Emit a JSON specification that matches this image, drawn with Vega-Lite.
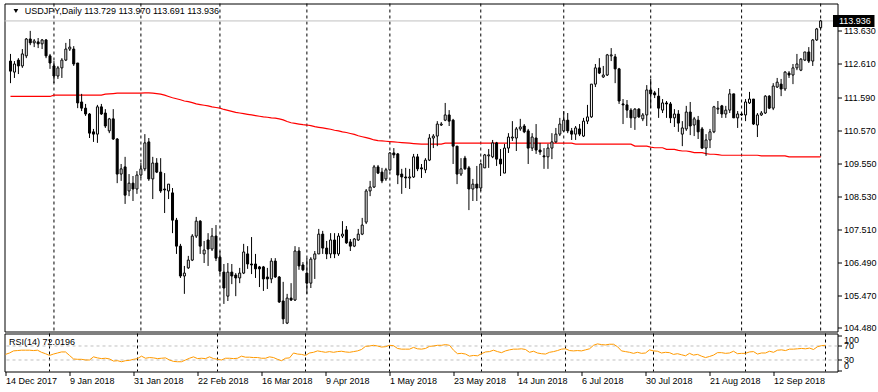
{
"$schema": "https://vega.github.io/schema/vega-lite/v6.json",
"background": "white",
"padding": {"left": 2.5, "top": 2.5, "right": 0, "bottom": 16},
"bounds": "flush",
"spacing": 2,
"config": {
  "view": {"stroke": "#000000", "strokeWidth": 1},
  "axis": {"labelFont": "Liberation Sans", "labelFontSize": 9, "labelColor": "#000000", "tickColor": "#000000", "domain": false, "grid": false},
  "text": {"font": "Liberation Sans", "fontSize": 9, "color": "#000000"}
},
"datasets": {
  "months": [{"i":11},{"i":33},{"i":53},{"i":75},{"i":96},{"i":119},{"i":140},{"i":162},{"i":185},{"i":205}],
  "levels": [{"v":70},{"v":30}],
  "bars": [
{"i":0,"o":112.70,"h":112.92,"l":112.02,"c":112.39,"ma":111.61,"rsi":46},
{"i":1,"o":112.36,"h":112.70,"l":112.18,"c":112.61,"ma":111.61,"rsi":50},
{"i":2,"o":112.73,"h":112.79,"l":112.30,"c":112.55,"ma":111.61,"rsi":56},
{"i":3,"o":112.55,"h":113.07,"l":112.49,"c":112.92,"ma":111.61,"rsi":57},
{"i":4,"o":112.86,"h":113.41,"l":112.79,"c":113.38,"ma":111.61,"rsi":58},
{"i":5,"o":113.38,"h":113.63,"l":113.19,"c":113.26,"ma":111.61,"rsi":58},
{"i":6,"o":113.26,"h":113.38,"l":113.13,"c":113.32,"ma":111.61,"rsi":58},
{"i":7,"o":113.29,"h":113.41,"l":113.10,"c":113.23,"ma":111.61,"rsi":57},
{"i":8,"o":113.23,"h":113.38,"l":113.07,"c":113.35,"ma":111.61,"rsi":58},
{"i":9,"o":113.35,"h":113.38,"l":112.79,"c":112.86,"ma":111.61,"rsi":52},
{"i":10,"o":112.86,"h":112.92,"l":112.46,"c":112.64,"ma":111.61,"rsi":48},
{"i":11,"o":112.55,"h":112.70,"l":112.02,"c":112.24,"ma":111.65,"rsi":43},
{"i":12,"o":112.24,"h":112.55,"l":112.15,"c":112.49,"ma":111.65,"rsi":47},
{"i":13,"o":112.49,"h":112.79,"l":112.18,"c":112.73,"ma":111.65,"rsi":50},
{"i":14,"o":112.73,"h":113.26,"l":112.70,"c":113.07,"ma":111.65,"rsi":53},
{"i":15,"o":113.07,"h":113.38,"l":113.01,"c":113.13,"ma":111.65,"rsi":53},
{"i":16,"o":113.07,"h":113.16,"l":112.55,"c":112.61,"ma":111.65,"rsi":43},
{"i":17,"o":112.64,"h":112.64,"l":111.25,"c":111.41,"ma":111.65,"rsi":33},
{"i":18,"o":111.44,"h":111.69,"l":111.16,"c":111.25,"ma":111.65,"rsi":32},
{"i":19,"o":111.25,"h":111.38,"l":111.01,"c":111.07,"ma":111.65,"rsi":32},
{"i":20,"o":111.07,"h":111.10,"l":110.33,"c":110.48,"ma":111.65,"rsi":30},
{"i":21,"o":110.52,"h":110.61,"l":110.21,"c":110.45,"ma":111.65,"rsi":30},
{"i":22,"o":110.45,"h":111.35,"l":110.18,"c":111.29,"ma":111.65,"rsi":39},
{"i":23,"o":111.29,"h":111.38,"l":111.04,"c":111.07,"ma":111.65,"rsi":36},
{"i":24,"o":111.10,"h":111.22,"l":110.64,"c":110.70,"ma":111.68,"rsi":34},
{"i":25,"o":110.55,"h":110.95,"l":110.48,"c":110.92,"ma":111.69,"rsi":35},
{"i":26,"o":110.92,"h":111.22,"l":110.27,"c":110.30,"ma":111.70,"rsi":33},
{"i":27,"o":110.30,"h":110.33,"l":108.94,"c":109.22,"ma":111.71,"rsi":27},
{"i":28,"o":109.22,"h":109.53,"l":109.01,"c":109.38,"ma":111.71,"rsi":28},
{"i":29,"o":109.44,"h":109.75,"l":108.30,"c":108.57,"ma":111.71,"rsi":25},
{"i":30,"o":108.70,"h":109.22,"l":108.54,"c":108.94,"ma":111.71,"rsi":28},
{"i":31,"o":108.94,"h":109.16,"l":108.39,"c":108.76,"ma":111.71,"rsi":29},
{"i":32,"o":108.76,"h":109.31,"l":108.61,"c":109.19,"ma":111.71,"rsi":32},
{"i":33,"o":109.19,"h":109.56,"l":109.10,"c":109.38,"ma":111.71,"rsi":34},
{"i":34,"o":109.38,"h":110.45,"l":109.31,"c":110.18,"ma":111.72,"rsi":41},
{"i":35,"o":110.21,"h":110.33,"l":109.01,"c":109.07,"ma":111.72,"rsi":35},
{"i":36,"o":109.07,"h":109.75,"l":108.45,"c":109.56,"ma":111.71,"rsi":37},
{"i":37,"o":109.56,"h":109.71,"l":109.25,"c":109.28,"ma":111.70,"rsi":36},
{"i":38,"o":109.28,"h":109.71,"l":108.64,"c":108.70,"ma":111.68,"rsi":34},
{"i":39,"o":108.76,"h":109.25,"l":108.02,"c":108.73,"ma":111.65,"rsi":35},
{"i":40,"o":108.70,"h":108.91,"l":108.45,"c":108.91,"ma":111.61,"rsi":36},
{"i":41,"o":108.64,"h":108.79,"l":107.40,"c":107.80,"ma":111.57,"rsi":30},
{"i":42,"o":107.80,"h":107.87,"l":106.76,"c":107.00,"ma":111.54,"rsi":26},
{"i":43,"o":107.00,"h":107.07,"l":106.02,"c":106.08,"ma":111.51,"rsi":25},
{"i":44,"o":106.08,"h":106.39,"l":105.53,"c":106.17,"ma":111.47,"rsi":25},
{"i":45,"o":106.33,"h":106.70,"l":106.30,"c":106.57,"ma":111.45,"rsi":30},
{"i":46,"o":106.57,"h":107.37,"l":106.54,"c":107.31,"ma":111.42,"rsi":35},
{"i":47,"o":107.31,"h":107.90,"l":107.25,"c":107.77,"ma":111.38,"rsi":39},
{"i":48,"o":107.77,"h":107.80,"l":106.76,"c":107.00,"ma":111.36,"rsi":34},
{"i":49,"o":106.76,"h":107.16,"l":106.48,"c":106.88,"ma":111.34,"rsi":35},
{"i":50,"o":107.19,"h":107.40,"l":106.39,"c":106.91,"ma":111.32,"rsi":34},
{"i":51,"o":106.91,"h":107.56,"l":106.85,"c":107.31,"ma":111.29,"rsi":39},
{"i":52,"o":107.31,"h":107.65,"l":106.54,"c":106.63,"ma":111.27,"rsi":34},
{"i":53,"o":106.66,"h":106.85,"l":106.14,"c":106.23,"ma":111.25,"rsi":32},
{"i":54,"o":106.20,"h":106.45,"l":105.22,"c":105.71,"ma":111.21,"rsi":30},
{"i":55,"o":105.46,"h":106.48,"l":105.31,"c":106.20,"ma":111.18,"rsi":35},
{"i":56,"o":106.20,"h":106.45,"l":105.83,"c":106.08,"ma":111.15,"rsi":35},
{"i":57,"o":106.11,"h":106.17,"l":105.46,"c":106.02,"ma":111.12,"rsi":34},
{"i":58,"o":106.02,"h":106.33,"l":105.86,"c":106.17,"ma":111.10,"rsi":35},
{"i":59,"o":106.17,"h":107.07,"l":106.14,"c":106.82,"ma":111.08,"rsi":41},
{"i":60,"o":106.76,"h":107.00,"l":106.30,"c":106.45,"ma":111.06,"rsi":38},
{"i":61,"o":106.45,"h":107.28,"l":106.14,"c":106.42,"ma":111.04,"rsi":38},
{"i":62,"o":106.45,"h":106.76,"l":106.02,"c":106.30,"ma":111.02,"rsi":37},
{"i":63,"o":106.36,"h":106.39,"l":105.74,"c":106.30,"ma":111.00,"rsi":37},
{"i":64,"o":106.36,"h":106.39,"l":105.62,"c":105.99,"ma":110.98,"rsi":35},
{"i":65,"o":106.05,"h":106.33,"l":105.68,"c":105.99,"ma":110.97,"rsi":35},
{"i":66,"o":105.99,"h":106.63,"l":105.86,"c":106.54,"ma":110.95,"rsi":39},
{"i":67,"o":106.54,"h":106.63,"l":106.02,"c":106.05,"ma":110.94,"rsi":37},
{"i":68,"o":106.05,"h":106.08,"l":105.25,"c":105.28,"ma":110.92,"rsi":32},
{"i":69,"o":105.31,"h":105.90,"l":104.60,"c":104.76,"ma":110.89,"rsi":28},
{"i":70,"o":104.63,"h":105.53,"l":104.60,"c":105.40,"ma":110.84,"rsi":35},
{"i":71,"o":105.40,"h":105.86,"l":105.31,"c":105.34,"ma":110.80,"rsi":36},
{"i":72,"o":105.34,"h":107.00,"l":105.31,"c":106.85,"ma":110.78,"rsi":50},
{"i":73,"o":106.85,"h":106.97,"l":106.27,"c":106.39,"ma":110.76,"rsi":47},
{"i":74,"o":106.42,"h":106.51,"l":106.23,"c":106.27,"ma":110.74,"rsi":46},
{"i":75,"o":106.17,"h":106.63,"l":105.53,"c":105.86,"ma":110.73,"rsi":43},
{"i":76,"o":105.86,"h":106.66,"l":105.71,"c":106.60,"ma":110.71,"rsi":50},
{"i":77,"o":106.60,"h":106.85,"l":105.99,"c":106.76,"ma":110.68,"rsi":52},
{"i":78,"o":106.76,"h":107.53,"l":106.76,"c":107.37,"ma":110.66,"rsi":56},
{"i":79,"o":107.37,"h":107.47,"l":106.76,"c":106.94,"ma":110.64,"rsi":54},
{"i":80,"o":106.94,"h":107.16,"l":106.60,"c":106.76,"ma":110.62,"rsi":52},
{"i":81,"o":106.76,"h":107.40,"l":106.63,"c":107.19,"ma":110.60,"rsi":54},
{"i":82,"o":107.19,"h":107.40,"l":106.63,"c":106.76,"ma":110.57,"rsi":52},
{"i":83,"o":106.76,"h":107.40,"l":106.70,"c":107.31,"ma":110.55,"rsi":54},
{"i":84,"o":107.31,"h":107.77,"l":107.25,"c":107.37,"ma":110.52,"rsi":55},
{"i":85,"o":107.50,"h":107.62,"l":107.07,"c":107.10,"ma":110.50,"rsi":53},
{"i":86,"o":107.13,"h":107.22,"l":106.85,"c":107.00,"ma":110.47,"rsi":52},
{"i":87,"o":107.00,"h":107.25,"l":106.97,"c":107.22,"ma":110.44,"rsi":54},
{"i":88,"o":107.19,"h":107.53,"l":107.16,"c":107.37,"ma":110.40,"rsi":56},
{"i":89,"o":107.37,"h":107.87,"l":107.34,"c":107.65,"ma":110.37,"rsi":60},
{"i":90,"o":107.74,"h":108.76,"l":107.68,"c":108.70,"ma":110.34,"rsi":69},
{"i":91,"o":108.70,"h":109.01,"l":108.54,"c":108.82,"ma":110.31,"rsi":70},
{"i":92,"o":108.82,"h":109.50,"l":108.79,"c":109.44,"ma":110.27,"rsi":72},
{"i":93,"o":109.44,"h":109.50,"l":109.22,"c":109.25,"ma":110.25,"rsi":70},
{"i":94,"o":109.28,"h":109.41,"l":108.94,"c":109.01,"ma":110.24,"rsi":67},
{"i":95,"o":109.07,"h":109.41,"l":109.01,"c":109.35,"ma":110.23,"rsi":68},
{"i":96,"o":109.35,"h":109.90,"l":109.31,"c":109.87,"ma":110.22,"rsi":72},
{"i":97,"o":109.87,"h":110.02,"l":109.71,"c":109.81,"ma":110.21,"rsi":71},
{"i":98,"o":109.84,"h":109.87,"l":108.91,"c":109.19,"ma":110.20,"rsi":63},
{"i":99,"o":109.22,"h":109.38,"l":108.61,"c":109.13,"ma":110.19,"rsi":61},
{"i":100,"o":109.13,"h":109.41,"l":108.79,"c":109.10,"ma":110.18,"rsi":61},
{"i":101,"o":109.10,"h":109.38,"l":108.76,"c":109.13,"ma":110.17,"rsi":61},
{"i":102,"o":109.13,"h":109.84,"l":109.10,"c":109.75,"ma":110.16,"rsi":66},
{"i":103,"o":109.75,"h":109.84,"l":109.31,"c":109.38,"ma":110.15,"rsi":62},
{"i":104,"o":109.41,"h":109.53,"l":109.10,"c":109.38,"ma":110.14,"rsi":61},
{"i":105,"o":109.35,"h":109.71,"l":109.25,"c":109.65,"ma":110.14,"rsi":63},
{"i":106,"o":109.65,"h":110.45,"l":109.62,"c":110.33,"ma":110.14,"rsi":69},
{"i":107,"o":110.33,"h":110.45,"l":110.02,"c":110.39,"ma":110.14,"rsi":70},
{"i":108,"o":110.39,"h":110.85,"l":110.08,"c":110.76,"ma":110.14,"rsi":72},
{"i":109,"o":110.73,"h":110.82,"l":110.70,"c":110.76,"ma":110.14,"rsi":72},
{"i":110,"o":110.88,"h":111.41,"l":110.85,"c":111.04,"ma":110.17,"rsi":74},
{"i":111,"o":111.04,"h":111.19,"l":110.70,"c":110.85,"ma":110.17,"rsi":72},
{"i":112,"o":110.88,"h":110.92,"l":109.53,"c":110.08,"ma":110.17,"rsi":58},
{"i":113,"o":110.08,"h":110.08,"l":108.91,"c":109.22,"ma":110.17,"rsi":48},
{"i":114,"o":109.22,"h":109.71,"l":109.16,"c":109.38,"ma":110.17,"rsi":49},
{"i":115,"o":109.71,"h":109.78,"l":109.35,"c":109.38,"ma":110.17,"rsi":47},
{"i":116,"o":109.41,"h":109.47,"l":108.11,"c":108.76,"ma":110.17,"rsi":41},
{"i":117,"o":108.76,"h":109.07,"l":108.39,"c":108.91,"ma":110.17,"rsi":43},
{"i":118,"o":108.91,"h":109.47,"l":108.39,"c":108.79,"ma":110.17,"rsi":42},
{"i":119,"o":108.79,"h":109.56,"l":108.70,"c":109.53,"ma":110.17,"rsi":48},
{"i":120,"o":109.41,"h":109.84,"l":109.41,"c":109.81,"ma":110.17,"rsi":53},
{"i":121,"o":109.78,"h":109.99,"l":109.41,"c":109.81,"ma":110.17,"rsi":54},
{"i":122,"o":109.75,"h":110.27,"l":109.71,"c":110.18,"ma":110.17,"rsi":58},
{"i":123,"o":110.18,"h":110.21,"l":109.47,"c":109.68,"ma":110.17,"rsi":54},
{"i":124,"o":109.68,"h":109.99,"l":109.16,"c":109.53,"ma":110.17,"rsi":51},
{"i":125,"o":109.25,"h":110.15,"l":109.25,"c":110.02,"ma":110.17,"rsi":56},
{"i":126,"o":110.02,"h":110.48,"l":109.87,"c":110.36,"ma":110.17,"rsi":59},
{"i":127,"o":110.33,"h":110.85,"l":110.24,"c":110.36,"ma":110.17,"rsi":61},
{"i":128,"o":110.33,"h":110.67,"l":109.93,"c":110.61,"ma":110.17,"rsi":61},
{"i":129,"o":110.61,"h":110.92,"l":110.55,"c":110.67,"ma":110.17,"rsi":62},
{"i":130,"o":110.70,"h":110.76,"l":110.48,"c":110.52,"ma":110.17,"rsi":60},
{"i":131,"o":110.55,"h":110.61,"l":109.53,"c":110.02,"ma":110.17,"rsi":52},
{"i":132,"o":110.02,"h":110.48,"l":109.93,"c":110.36,"ma":110.17,"rsi":55},
{"i":133,"o":110.33,"h":110.76,"l":109.84,"c":109.96,"ma":110.17,"rsi":50},
{"i":134,"o":109.96,"h":110.18,"l":109.81,"c":109.90,"ma":110.17,"rsi":48},
{"i":135,"o":109.78,"h":110.02,"l":109.38,"c":109.75,"ma":110.17,"rsi":47},
{"i":136,"o":109.75,"h":110.15,"l":109.38,"c":110.02,"ma":110.17,"rsi":52},
{"i":137,"o":110.02,"h":110.48,"l":109.68,"c":110.21,"ma":110.17,"rsi":54},
{"i":138,"o":110.21,"h":110.64,"l":110.18,"c":110.45,"ma":110.17,"rsi":57},
{"i":139,"o":110.45,"h":110.95,"l":110.39,"c":110.76,"ma":110.17,"rsi":61},
{"i":140,"o":110.55,"h":111.16,"l":110.52,"c":110.88,"ma":110.17,"rsi":62},
{"i":141,"o":110.88,"h":111.10,"l":110.48,"c":110.55,"ma":110.17,"rsi":57},
{"i":142,"o":110.55,"h":110.64,"l":110.27,"c":110.45,"ma":110.17,"rsi":56},
{"i":143,"o":110.45,"h":110.70,"l":110.27,"c":110.64,"ma":110.14,"rsi":57},
{"i":144,"o":110.61,"h":110.76,"l":110.39,"c":110.45,"ma":110.14,"rsi":56},
{"i":145,"o":110.39,"h":110.95,"l":110.36,"c":110.85,"ma":110.14,"rsi":59},
{"i":146,"o":110.85,"h":111.35,"l":110.76,"c":110.98,"ma":110.14,"rsi":62},
{"i":147,"o":110.98,"h":111.99,"l":110.95,"c":111.99,"ma":110.14,"rsi":72},
{"i":148,"o":111.99,"h":112.61,"l":111.90,"c":112.49,"ma":110.14,"rsi":76},
{"i":149,"o":112.49,"h":112.79,"l":112.30,"c":112.33,"ma":110.14,"rsi":74},
{"i":150,"o":112.21,"h":112.55,"l":112.18,"c":112.27,"ma":110.14,"rsi":73},
{"i":151,"o":112.27,"h":112.92,"l":112.24,"c":112.89,"ma":110.14,"rsi":75},
{"i":152,"o":112.86,"h":113.10,"l":112.70,"c":112.89,"ma":110.14,"rsi":75},
{"i":153,"o":112.83,"h":112.92,"l":112.02,"c":112.46,"ma":110.14,"rsi":68},
{"i":154,"o":112.46,"h":112.49,"l":111.38,"c":111.47,"ma":110.14,"rsi":56},
{"i":155,"o":111.38,"h":111.53,"l":110.76,"c":111.35,"ma":110.14,"rsi":54},
{"i":156,"o":111.35,"h":111.50,"l":110.95,"c":111.19,"ma":110.14,"rsi":52},
{"i":157,"o":111.19,"h":111.25,"l":110.64,"c":110.95,"ma":110.14,"rsi":49},
{"i":158,"o":110.95,"h":111.25,"l":110.58,"c":111.22,"ma":110.08,"rsi":52},
{"i":159,"o":111.22,"h":111.25,"l":110.95,"c":110.98,"ma":110.08,"rsi":49},
{"i":160,"o":110.92,"h":111.10,"l":110.85,"c":111.04,"ma":110.08,"rsi":50},
{"i":161,"o":111.04,"h":111.96,"l":110.70,"c":111.81,"ma":110.08,"rsi":59},
{"i":162,"o":111.81,"h":112.15,"l":111.25,"c":111.69,"ma":110.05,"rsi":56},
{"i":163,"o":111.72,"h":111.78,"l":111.56,"c":111.66,"ma":110.03,"rsi":55},
{"i":164,"o":111.62,"h":111.87,"l":110.95,"c":111.25,"ma":110.03,"rsi":50},
{"i":165,"o":111.19,"h":111.53,"l":111.10,"c":111.41,"ma":110.03,"rsi":52},
{"i":166,"o":111.41,"h":111.47,"l":110.95,"c":111.38,"ma":109.98,"rsi":51},
{"i":167,"o":111.38,"h":111.44,"l":110.79,"c":110.95,"ma":109.98,"rsi":46},
{"i":168,"o":110.95,"h":111.22,"l":110.67,"c":111.07,"ma":109.98,"rsi":48},
{"i":169,"o":111.07,"h":111.19,"l":110.52,"c":110.79,"ma":109.95,"rsi":45},
{"i":170,"o":110.45,"h":110.85,"l":110.08,"c":110.64,"ma":109.93,"rsi":42},
{"i":171,"o":110.61,"h":111.32,"l":110.55,"c":111.13,"ma":109.93,"rsi":49},
{"i":172,"o":111.13,"h":111.44,"l":110.42,"c":110.70,"ma":109.91,"rsi":44},
{"i":173,"o":110.73,"h":110.98,"l":110.39,"c":110.92,"ma":109.88,"rsi":46},
{"i":174,"o":110.88,"h":111.01,"l":110.30,"c":110.52,"ma":109.88,"rsi":41},
{"i":175,"o":110.61,"h":110.67,"l":109.99,"c":110.02,"ma":109.88,"rsi":37},
{"i":176,"o":110.02,"h":110.45,"l":109.78,"c":110.27,"ma":109.85,"rsi":40},
{"i":177,"o":110.27,"h":110.61,"l":110.02,"c":110.52,"ma":109.83,"rsi":44},
{"i":178,"o":110.52,"h":111.32,"l":110.48,"c":111.29,"ma":109.83,"rsi":51},
{"i":179,"o":111.22,"h":111.47,"l":111.07,"c":111.25,"ma":109.82,"rsi":51},
{"i":180,"o":111.32,"h":111.35,"l":110.95,"c":111.07,"ma":109.80,"rsi":49},
{"i":181,"o":111.07,"h":111.32,"l":110.95,"c":111.19,"ma":109.80,"rsi":50},
{"i":182,"o":111.19,"h":111.84,"l":111.10,"c":111.69,"ma":109.80,"rsi":55},
{"i":183,"o":111.69,"h":111.69,"l":110.95,"c":110.95,"ma":109.80,"rsi":48},
{"i":184,"o":110.95,"h":111.16,"l":110.64,"c":111.07,"ma":109.80,"rsi":49},
{"i":185,"o":111.07,"h":111.10,"l":111.01,"c":111.04,"ma":109.80,"rsi":49},
{"i":186,"o":111.04,"h":111.53,"l":110.85,"c":111.44,"ma":109.80,"rsi":53},
{"i":187,"o":111.41,"h":111.75,"l":111.38,"c":111.53,"ma":109.80,"rsi":54},
{"i":188,"o":111.53,"h":111.53,"l":110.73,"c":110.76,"ma":109.80,"rsi":47},
{"i":189,"o":110.73,"h":111.10,"l":110.36,"c":111.04,"ma":109.80,"rsi":50},
{"i":190,"o":111.04,"h":111.16,"l":111.01,"c":111.10,"ma":109.78,"rsi":50},
{"i":191,"o":111.10,"h":111.65,"l":111.07,"c":111.62,"ma":109.78,"rsi":55},
{"i":192,"o":111.62,"h":111.65,"l":111.22,"c":111.25,"ma":109.78,"rsi":52},
{"i":193,"o":111.25,"h":112.02,"l":111.19,"c":111.93,"ma":109.78,"rsi":58},
{"i":194,"o":111.90,"h":112.18,"l":111.87,"c":112.05,"ma":109.78,"rsi":59},
{"i":195,"o":111.99,"h":112.15,"l":111.62,"c":111.84,"ma":109.78,"rsi":57},
{"i":196,"o":111.84,"h":112.39,"l":111.78,"c":112.36,"ma":109.78,"rsi":61},
{"i":197,"o":112.33,"h":112.39,"l":112.18,"c":112.27,"ma":109.75,"rsi":61},
{"i":198,"o":112.27,"h":112.61,"l":111.99,"c":112.49,"ma":109.75,"rsi":62},
{"i":199,"o":112.49,"h":112.92,"l":112.42,"c":112.61,"ma":109.75,"rsi":63},
{"i":200,"o":112.42,"h":112.79,"l":112.39,"c":112.76,"ma":109.75,"rsi":62},
{"i":201,"o":112.73,"h":112.98,"l":112.70,"c":112.98,"ma":109.75,"rsi":64},
{"i":202,"o":112.98,"h":113.13,"l":112.64,"c":112.70,"ma":109.75,"rsi":60},
{"i":203,"o":112.70,"h":113.38,"l":112.55,"c":113.35,"ma":109.75,"rsi":68},
{"i":204,"o":113.35,"h":113.72,"l":113.32,"c":113.69,"ma":109.75,"rsi":71},
{"i":205,"o":113.729,"h":113.970,"l":113.691,"c":113.936,"ma":109.75,"rsi":72.0196}
  ]
},
"vconcat": [
{
  "width": 833, "height": 328,
  "layer": [
    {"data": {"name": "months"},
     "mark": {"type": "rule", "color": "#000000", "strokeWidth": 1, "strokeDash": [3, 3]},
     "encoding": {"x": {"field": "i", "type": "quantitative", "scale": {"domain": [-0.25, 208], "nice": false, "zero": false}, "axis": null}}},
    {"data": {"values": [{"p": 113.936}]},
     "mark": {"type": "rule", "color": "#c0c0c0", "strokeWidth": 1},
     "encoding": {"y": {"field": "p", "type": "quantitative", "scale": {"domain": [104.371, 114.473], "nice": false, "zero": false},
        "axis": {"orient": "right", "title": null, "values": [104.48, 105.47, 106.49, 107.51, 108.53, 109.55, 110.57, 111.59, 112.61, 113.63], "format": ".3f", "tickSize": 4, "labelPadding": 2, "labelOverlap": false, "labelFlush": false}}}},
    {"data": {"name": "bars"},
     "mark": {"type": "line", "color": "#ff0000", "strokeWidth": 1.2},
     "encoding": {"x": {"field": "i", "type": "quantitative", "axis": null},
                  "y": {"field": "ma", "type": "quantitative",
        "axis": {"orient": "right", "title": null, "values": [104.48, 105.47, 106.49, 107.51, 108.53, 109.55, 110.57, 111.59, 112.61, 113.63], "format": ".3f", "tickSize": 4, "labelPadding": 2, "labelOverlap": false, "labelFlush": false}}}},
    {"data": {"name": "bars"},
     "mark": {"type": "rule", "color": "#000000", "strokeWidth": 1},
     "encoding": {"x": {"field": "i", "type": "quantitative", "axis": null},
                  "y": {"field": "l", "type": "quantitative",
        "axis": {"orient": "right", "title": null, "values": [104.48, 105.47, 106.49, 107.51, 108.53, 109.55, 110.57, 111.59, 112.61, 113.63], "format": ".3f", "tickSize": 4, "labelPadding": 2, "labelOverlap": false, "labelFlush": false}},
                  "y2": {"field": "h"}}},
    {"data": {"name": "bars"},
     "mark": {"type": "bar", "width": 2, "stroke": "#000000", "strokeWidth": 1},
     "encoding": {"x": {"field": "i", "type": "quantitative", "axis": null},
                  "y": {"field": "o", "type": "quantitative",
        "axis": {"orient": "right", "title": null, "values": [104.48, 105.47, 106.49, 107.51, 108.53, 109.55, 110.57, 111.59, 112.61, 113.63], "format": ".3f", "tickSize": 4, "labelPadding": 2, "labelOverlap": false, "labelFlush": false}},
                  "y2": {"field": "c"},
                  "fill": {"condition": {"test": "datum.c >= datum.o", "value": "#ffffff"}, "value": "#000000"}}},
    {"data": {"values": [{}]},
     "mark": {"type": "point", "shape": "triangle-down", "filled": true, "color": "#000000", "size": 22, "opacity": 1},
     "encoding": {"x": {"datum": 1.375, "type": "quantitative", "axis": null}, "y": {"datum": 114.24, "type": "quantitative",
        "axis": {"orient": "right", "title": null, "values": [104.48, 105.47, 106.49, 107.51, 108.53, 109.55, 110.57, 111.59, 112.61, 113.63], "format": ".3f", "tickSize": 4, "labelPadding": 2, "labelOverlap": false, "labelFlush": false}}}},
    {"data": {"values": [{}]},
     "mark": {"type": "text", "text": "USDJPY,Daily  113.729 113.970 113.691 113.936", "align": "left", "baseline": "middle", "font": "Liberation Sans", "fontSize": 9},
     "encoding": {"x": {"datum": 3.625, "type": "quantitative", "axis": null}, "y": {"datum": 114.24, "type": "quantitative",
        "axis": {"orient": "right", "title": null, "values": [104.48, 105.47, 106.49, 107.51, 108.53, 109.55, 110.57, 111.59, 112.61, 113.63], "format": ".3f", "tickSize": 4, "labelPadding": 2, "labelOverlap": false, "labelFlush": false}}}},
    {"data": {"values": [{}]},
     "mark": {"type": "rect", "color": "#000000"},
     "encoding": {"x": {"datum": 208.125, "type": "quantitative", "axis": null}, "x2": {"datum": 218.625},
                  "y": {"datum": 114.119, "type": "quantitative",
        "axis": {"orient": "right", "title": null, "values": [104.48, 105.47, 106.49, 107.51, 108.53, 109.55, 110.57, 111.59, 112.61, 113.63], "format": ".3f", "tickSize": 4, "labelPadding": 2, "labelOverlap": false, "labelFlush": false}},
                  "y2": {"datum": 113.749}}},
    {"data": {"values": [{}]},
     "mark": {"type": "text", "text": "113.936", "align": "left", "baseline": "middle", "color": "#ffffff", "font": "Liberation Sans", "fontSize": 9},
     "encoding": {"x": {"datum": 209.625, "type": "quantitative", "axis": null}, "y": {"datum": 113.936, "type": "quantitative",
        "axis": {"orient": "right", "title": null, "values": [104.48, 105.47, 106.49, 107.51, 108.53, 109.55, 110.57, 111.59, 112.61, 113.63], "format": ".3f", "tickSize": 4, "labelPadding": 2, "labelOverlap": false, "labelFlush": false}}}}
  ]
},
{
  "width": 833, "height": 38,
  "layer": [
    {"data": {"name": "months"},
     "mark": {"type": "rule", "color": "#000000", "strokeWidth": 1, "strokeDash": [3, 3]},
     "encoding": {"x": {"field": "i", "type": "quantitative", "scale": {"domain": [-0.25, 208], "nice": false, "zero": false},
        "axis": {"orient": "bottom", "title": null, "values": [0, 16, 32, 48, 64, 80, 96, 112, 128, 144, 160, 176, 192],
                 "labelExpr": "['14 Dec 2017','9 Jan 2018','31 Jan 2018','22 Feb 2018','16 Mar 2018','9 Apr 2018','1 May 2018','23 May 2018','14 Jun 2018','6 Jul 2018','30 Jul 2018','21 Aug 2018','12 Sep 2018'][round(datum.value/16)]",
                 "labelAlign": "left", "labelBaseline": "top", "labelFlush": false, "labelOverlap": false, "tickSize": 4, "labelPadding": 1}}}},
    {"data": {"name": "levels"},
     "mark": {"type": "rule", "color": "#c0c0c0", "strokeWidth": 1, "strokeDash": [3, 3]},
     "encoding": {"y": {"field": "v", "type": "quantitative", "scale": {"domain": [-2.86, 105.71], "nice": false, "zero": false},
        "axis": {"orient": "right", "title": null, "values": [0, 30, 70, 100], "format": "d", "tickSize": 4, "labelPadding": 2, "labelOverlap": false, "labelFlush": 3}}}},
    {"data": {"name": "bars"},
     "mark": {"type": "line", "color": "#ff9a00", "strokeWidth": 1},
     "encoding": {"x": {"field": "i", "type": "quantitative",
        "axis": {"orient": "bottom", "title": null, "values": [0, 16, 32, 48, 64, 80, 96, 112, 128, 144, 160, 176, 192],
                 "labelExpr": "['14 Dec 2017','9 Jan 2018','31 Jan 2018','22 Feb 2018','16 Mar 2018','9 Apr 2018','1 May 2018','23 May 2018','14 Jun 2018','6 Jul 2018','30 Jul 2018','21 Aug 2018','12 Sep 2018'][round(datum.value/16)]",
                 "labelAlign": "left", "labelBaseline": "top", "labelFlush": false, "labelOverlap": false, "tickSize": 4, "labelPadding": 1}},
                  "y": {"field": "rsi", "type": "quantitative",
        "axis": {"orient": "right", "title": null, "values": [0, 30, 70, 100], "format": "d", "tickSize": 4, "labelPadding": 2, "labelOverlap": false, "labelFlush": 3}}}},
    {"data": {"values": [{}]},
     "mark": {"type": "text", "text": "RSI(14) 72.0196", "align": "left", "baseline": "middle", "font": "Liberation Sans", "fontSize": 9},
     "encoding": {"x": {"datum": 0.875, "type": "quantitative",
        "axis": {"orient": "bottom", "title": null, "values": [0, 16, 32, 48, 64, 80, 96, 112, 128, 144, 160, 176, 192],
                 "labelExpr": "['14 Dec 2017','9 Jan 2018','31 Jan 2018','22 Feb 2018','16 Mar 2018','9 Apr 2018','1 May 2018','23 May 2018','14 Jun 2018','6 Jul 2018','30 Jul 2018','21 Aug 2018','12 Sep 2018'][round(datum.value/16)]",
                 "labelAlign": "left", "labelBaseline": "top", "labelFlush": false, "labelOverlap": false, "tickSize": 4, "labelPadding": 1}},
                  "y": {"datum": 81.4, "type": "quantitative",
        "axis": {"orient": "right", "title": null, "values": [0, 30, 70, 100], "format": "d", "tickSize": 4, "labelPadding": 2, "labelOverlap": false, "labelFlush": 3}}}}
  ]
}
]
}
